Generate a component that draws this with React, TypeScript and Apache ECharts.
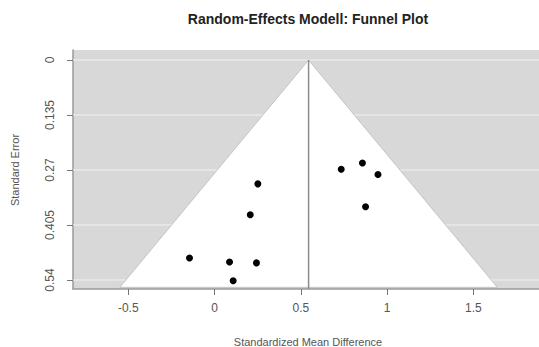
import React, { useEffect, useRef } from "react";
import * as echarts from "echarts";

const xTicks = [-0.5, 0, 0.5, 1, 1.5];
const yTicks = [0, 0.135, 0.27, 0.405, 0.54];
const effectSizes = [0.251, 0.207, -0.145, 0.087, 0.243, 0.108, 0.734, 0.857, 0.947, 0.875];
const standardErrors = [0.304, 0.38, 0.486, 0.496, 0.498, 0.542, 0.268, 0.253, 0.281, 0.36];
const pooledEstimate = 0.545;
const funnelSeMax = 0.558;
const xMin = -0.82;
const xMax = 1.88;
const yMin = -0.0246;
const yMax = 0.5621;

const FONT = "Liberation Sans, Arial, sans-serif";

export default function App() {
  const ref = useRef<HTMLDivElement>(null);
  useEffect(() => {
    if (!ref.current) return;
    const chart = echarts.init(ref.current, null, { renderer: "svg" });
    chart.setOption({
      animation: false,
      grid: {
        left: 73,
        right: 0,
        top: 50,
        bottom: 58,
        show: true,
        backgroundColor: "#d8d8d8",
        borderWidth: 0,
      },
      xAxis: {
        type: "value",
        min: xMin,
        max: xMax,
        axisLine: { show: true, onZero: false, lineStyle: { color: "#9a9a9a", width: 1.5 } },
        axisTick: { show: true, length: 6, customValues: xTicks, lineStyle: { color: "#777" } },
        axisLabel: {
          customValues: xTicks,
          fontSize: 12,
          color: "#555",
          margin: 13,
          fontFamily: FONT,
          formatter: (v: number) => String(v),
        },
        splitLine: { show: false },
      },
      yAxis: {
        type: "value",
        inverse: true,
        min: yMin,
        max: yMax,
        axisLine: { show: true, onZero: false, lineStyle: { color: "#9a9a9a", width: 1.5 } },
        axisTick: { show: true, length: 6, customValues: yTicks, lineStyle: { color: "#777" } },
        axisLabel: {
          customValues: yTicks,
          rotate: 90,
          fontSize: 12,
          color: "#555",
          margin: 17,
          fontFamily: FONT,
          formatter: (v: number) => String(v),
        },
        splitLine: { show: false },
      },
      graphic: [
        {
          type: "text",
          x: 308,
          y: 19,
          style: {
            text: "Random-Effects Modell: Funnel Plot",
            font: `bold 14px ${FONT}`,
            fill: "#222",
            textAlign: "center",
            textVerticalAlign: "middle",
          },
        },
        {
          type: "text",
          x: 308,
          y: 342,
          style: {
            text: "Standardized Mean Difference",
            font: `11px ${FONT}`,
            fill: "#555",
            textAlign: "center",
            textVerticalAlign: "middle",
          },
        },
        {
          type: "text",
          x: 15,
          y: 170,
          rotation: Math.PI / 2,
          style: {
            text: "Standard Error",
            font: `11px ${FONT}`,
            fill: "#555",
            textAlign: "center",
            textVerticalAlign: "middle",
          },
        },
      ],
      series: [
        {
          type: "custom",
          z: 1,
          silent: true,
          data: yTicks.map((v) => [v]),
          renderItem: (_p: any, api: any) => {
            const v = api.value(0);
            const a = api.coord([xMin, v]);
            const b = api.coord([xMax, v]);
            return {
              type: "line",
              shape: { x1: a[0], y1: a[1], x2: b[0], y2: b[1] },
              style: { stroke: "#f2f2f2", lineWidth: 1 },
            };
          },
        },
        {
          type: "custom",
          z: 2,
          silent: true,
          data: [[pooledEstimate, funnelSeMax]],
          renderItem: (_p: any, api: any) => {
            const est = api.value(0);
            const se = api.value(1);
            const apex = api.coord([est, 0]);
            const l = api.coord([est - 1.96 * se, se]);
            const r = api.coord([est + 1.96 * se, se]);
            const bottom = api.coord([est, yMax]);
            return {
              type: "group",
              children: [
                {
                  type: "polygon",
                  shape: { points: [apex, l, r] },
                  style: { fill: "#ffffff", stroke: "#c4c4c4", lineWidth: 1 },
                },
                {
                  type: "line",
                  shape: { x1: apex[0], y1: apex[1], x2: bottom[0], y2: bottom[1] },
                  style: { stroke: "#8c8c8c", lineWidth: 1.5 },
                },
              ],
            };
          },
        },
        {
          type: "scatter",
          z: 3,
          symbolSize: 7,
          itemStyle: { color: "#000", opacity: 1 },
          data: effectSizes.map((x, i) => [x, standardErrors[i]]),
        },
      ],
    });
    return () => chart.dispose();
  }, []);
  return <div ref={ref} style={{ width: 539, height: 347, position: "absolute", left: 0, top: 0 }} />;
}
